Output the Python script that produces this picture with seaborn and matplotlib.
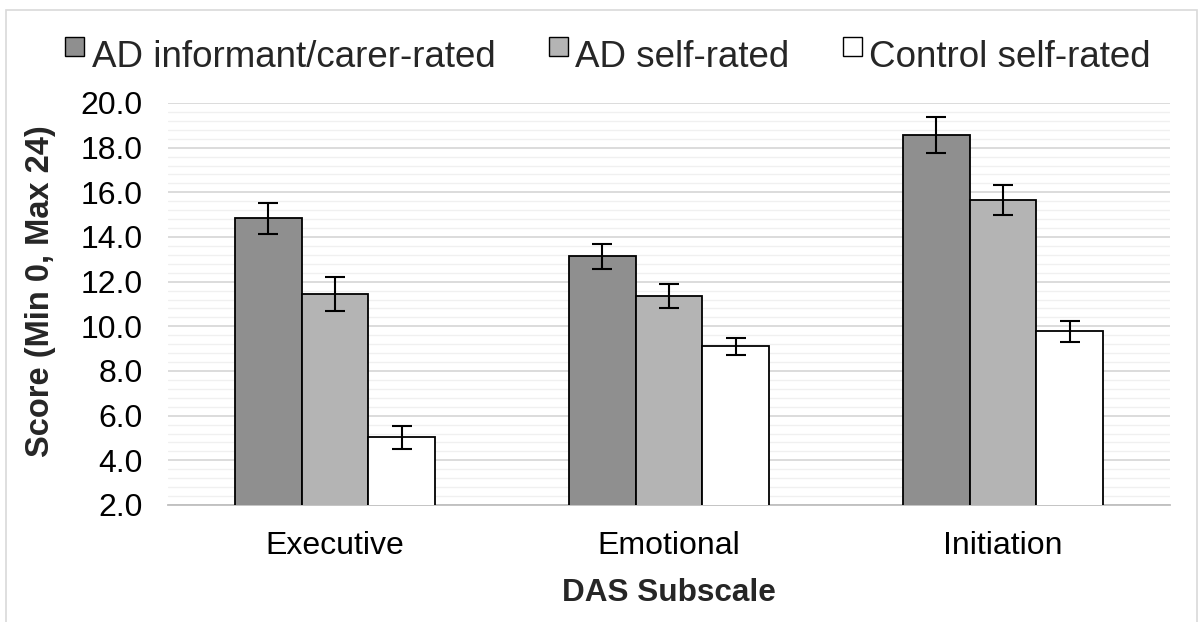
import numpy as np
import pandas as pd
import matplotlib
matplotlib.use("Agg")
import matplotlib.pyplot as plt
import seaborn as sns
from matplotlib.patches import Patch, Rectangle
from matplotlib.legend_handler import HandlerPatch
from matplotlib.ticker import MultipleLocator, FormatStrFormatter

categories = ["Executive", "Emotional", "Initiation"]
groups = ["AD informant/carer-rated", "AD self-rated", "Control self-rated"]
informant = [14.83, 13.13, 18.58]
self_rated = [11.45, 11.36, 15.66]
control = [5.03, 9.10, 9.77]
informant_err = [0.69, 0.55, 0.80]
self_err = [0.76, 0.52, 0.68]
control_err = [0.52, 0.39, 0.45]
colors = ["#8f8f8f", "#b4b4b4", "#ffffff"]

sns.set_theme(style="white")
plt.rcParams['font.family'] = ['Liberation Sans', 'DejaVu Sans']

values = [informant, self_rated, control]
errors = [informant_err, self_err, control_err]
rows = []
for g, vals in zip(groups, values):
    for c, v in zip(categories, vals):
        rows.append({"Subscale": c, "Group": g, "Score": v})
df = pd.DataFrame(rows)

fig = plt.figure(figsize=(12.03, 6.22), dpi=100)
ax = fig.add_axes([168 / 1203, 1 - 505 / 622, (1170 - 168) / 1203, (505 - 103) / 622])

sns.barplot(data=df, x="Subscale", y="Score", hue="Group", order=categories,
            hue_order=groups, palette=colors, width=0.6, errorbar=None,
            edgecolor="black", linewidth=1.3, ax=ax, legend=False, zorder=3)

for cont, errs in zip(ax.containers, errors):
    xs = [b.get_x() + b.get_width() / 2 for b in cont]
    hs = [b.get_height() for b in cont]
    ax.errorbar(xs, hs, yerr=errs, fmt="none", ecolor="black", elinewidth=1.5,
                capsize=7, capthick=1.5, zorder=4)

ax.set_ylim(2, 20)
ax.set_xlim(-0.5, 2.5)
ax.yaxis.set_major_locator(MultipleLocator(2))
ax.yaxis.set_minor_locator(MultipleLocator(0.4))
ax.yaxis.set_major_formatter(FormatStrFormatter("%.1f"))
ax.grid(which="major", axis="y", color="#d9d9d9", linewidth=1.3, zorder=0)
ax.grid(which="minor", axis="y", color="#f0f0f0", linewidth=1.0, zorder=0)
ax.set_axisbelow(True)
for s in ["top", "right", "left"]:
    ax.spines[s].set_visible(False)
ax.spines["bottom"].set_color("#bfbfbf")
ax.spines["bottom"].set_linewidth(1.3)
ax.tick_params(axis="both", which="both", length=0, labelsize=23, colors="black")
ax.tick_params(axis="y", pad=18)
ax.tick_params(axis="x", pad=19)
ax.set_ylabel("Score (Min 0, Max 24)", fontsize=23.5, fontweight="bold", va="center")
ax.yaxis.set_label_coords((40 - 168) / 1002, (505 - 291) / 402)
ax.set_xlabel("DAS Subscale", fontsize=22.7, fontweight="bold", labelpad=12)


class HighSquare(HandlerPatch):
    def create_artists(self, legend, orig_handle, xdescent, ydescent, width,
                       height, fontsize, trans):
        s = min(width, height)
        p = Rectangle((-xdescent, -ydescent + height * 0.4), s, s,
                      facecolor=orig_handle.get_facecolor(), edgecolor="black",
                      linewidth=1.0, transform=trans)
        return [p]


leg_fs = 26.5
handles = [Patch(facecolor=c, edgecolor="black", linewidth=1.0) for c in colors]
leg = fig.legend(handles, groups, loc="upper left",
                 bbox_to_anchor=(65 / 1203 - 0.4 * leg_fs / 72 * 100 / 1203, 1 - 25 / 622),
                 ncol=3, frameon=False, fontsize=leg_fs, handlelength=0.52,
                 handleheight=0.52, handletextpad=0.2, columnspacing=1.45,
                 borderaxespad=0, borderpad=0.4, handler_map={Patch: HighSquare()})

fig.patches.append(Rectangle((6 / 1203, -0.05), (1197 - 6) / 1203, 1.05 - 10 / 622,
                             transform=fig.transFigure, fill=False, edgecolor="#d9d9d9",
                             linewidth=1.2))

fig.savefig("out.png", dpi=100, facecolor="white")
